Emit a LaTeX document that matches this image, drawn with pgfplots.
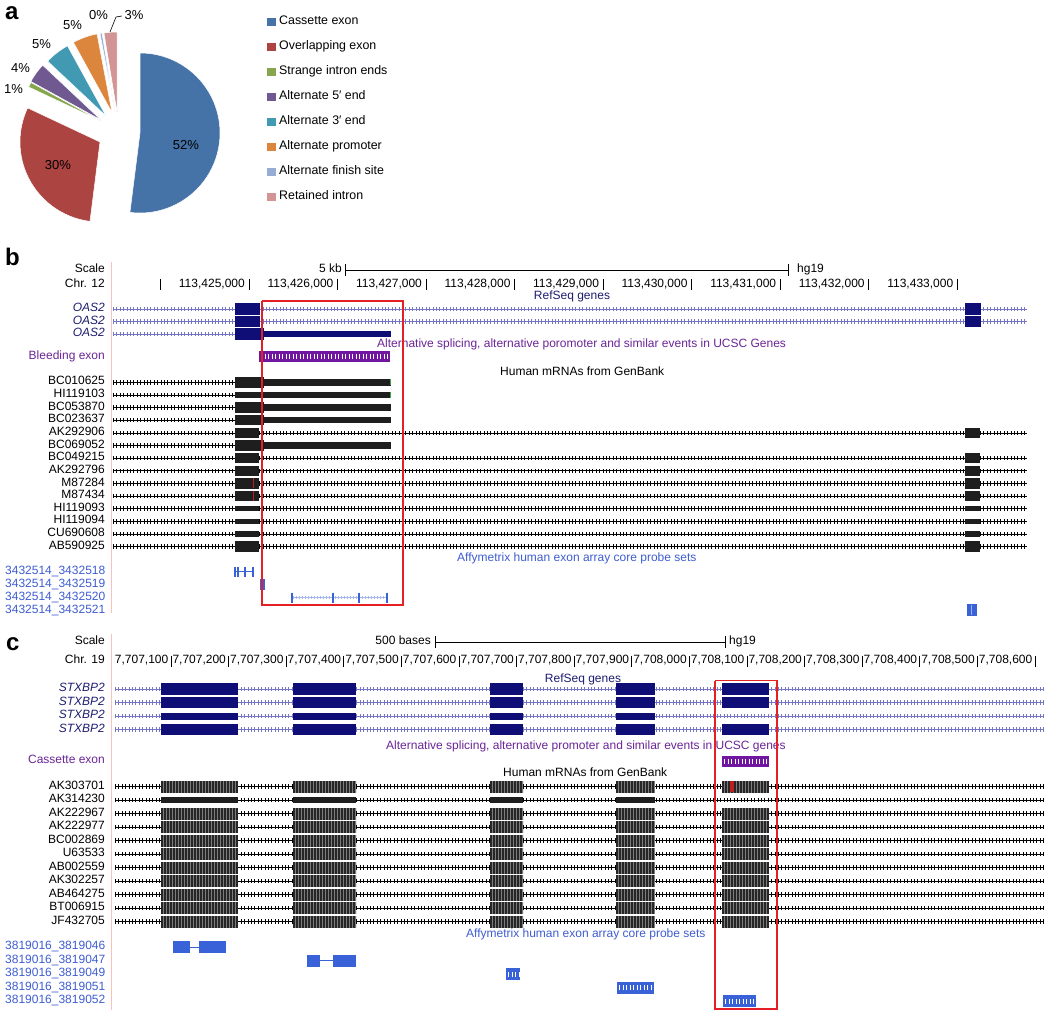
\documentclass[border=0pt]{standalone}
\usepackage{pgfplots}
\pgfplotsset{compat=1.18}
\usepackage{fontspec}
\setmainfont{Liberation Sans}
\definecolor{pieblue}{RGB}{69,114,167}
\definecolor{piered}{RGB}{172,68,66}
\definecolor{piegreen}{RGB}{134,165,76}
\definecolor{piepurple}{RGB}{112,88,145}
\definecolor{pieteal}{RGB}{66,153,178}
\definecolor{pieorange}{RGB}{220,133,60}
\definecolor{pielblue}{RGB}{150,172,210}
\definecolor{piepink}{RGB}{210,148,148}
\definecolor{navyexon}{RGB}{14,14,118}
\definecolor{refline}{RGB}{118,118,196}
\definecolor{navytext}{RGB}{28,28,112}
\definecolor{mexon}{RGB}{30,30,30}
\definecolor{stripebase}{RGB}{125,125,125}
\definecolor{stripedark}{RGB}{38,38,38}
\definecolor{probe}{RGB}{58,98,216}
\definecolor{probetext}{RGB}{62,92,208}
\definecolor{purpletext}{RGB}{106,36,150}
\definecolor{purplebar}{RGB}{112,22,160}
\definecolor{redbox}{RGB}{228,32,36}
\definecolor{pinkline}{RGB}{250,192,192}
\definecolor{mred}{RGB}{190,30,30}
\definecolor{mgreen}{RGB}{60,170,60}
\newcommand{\fs}{\fontsize{12}{14}\selectfont}
\tikzset{
  lbl/.style={inner sep=0pt, font=\fs},
  leg/.style={inner sep=0pt, font=\fontsize{12.4}{14}\selectfont},
  pct/.style={inner sep=0pt, font=\fontsize{13}{15}\selectfont},
  panel/.style={inner sep=0pt, font=\fontsize{24}{26}\selectfont\bfseries},
}
% intron line with chevron texture: colour, x1, x2, y
\newcommand{\intron}[4]{%
  \addplot[#1, line width=0.8pt] coordinates {(#2,#4) (#3,#4)};%
  \addplot[#1, line width=4.5pt, dash pattern=on 1pt off 2.4pt] coordinates {(#2,#4) (#3,#4)};}
% solid block: colour, height, y, x1, x2
\newcommand{\blk}[5]{\addplot[#1, line width=#2pt] coordinates {(#4,#3) (#5,#3)};}
% striped block: y, x1, x2, height
\newcommand{\sblk}[4]{%
  \addplot[stripebase, line width=#4pt] coordinates {(#2,#1) (#3,#1)};%
  \addplot[stripedark, line width=#4pt, dash pattern=on 2pt off 1pt] coordinates {(#2,#1) (#3,#1)};}
% white chevrons on a block: x1, x2, y
\newcommand{\wchev}[3]{\addplot[white, line width=5pt, dash pattern=on 0.7pt off 2.8pt] coordinates {(#1,#3) (#2,#3)};}
% pie slice: colour, tip x, tip y, start angle, end angle
\newcommand{\pieslice}[5]{\fill[#1, draw=white, line width=0.5pt] (axis cs:#2,#3) -- ++(#4:80pt) arc[start angle=#4, end angle=#5, radius=80pt] -- cycle;}
\begin{document}
\begin{tikzpicture}
\begin{axis}[name=main, x=1pt, y=1pt, y dir=reverse, xmin=0, xmax=1050, ymin=0, ymax=1016,
  hide axis, clip=false, unbounded coords=jump]
%% ---------------- panel a: pie ----------------
% shares (%): 52, 30, 1, 4, 5, 5, 0.4, 2.6 -> angles clockwise from 90
\pieslice{pieblue}{140}{133}{90}{-97.2}
\pieslice{piered}{100}{142}{-97.2}{-205.2}
\pieslice{piegreen}{101}{121}{-205.2}{-208.8}
\pieslice{piepurple}{101}{120}{-208.8}{-223.2}
\pieslice{pieteal}{106}{116}{-223.2}{-241.2}
\pieslice{pieorange}{112}{112.5}{-241.2}{-259.2}
\pieslice{pielblue}{115}{112}{-259.2}{-260.64}
\pieslice{piepink}{117}{112}{-260.64}{-270}
\node[pct] at (axis cs:186,145) {52\%};
\node[pct] at (axis cs:58,165) {30\%};
\node[pct] at (axis cs:13.5,89) {1\%};
\node[pct] at (axis cs:20.5,68) {4\%};
\node[pct] at (axis cs:41.5,44) {5\%};
\node[pct] at (axis cs:72.5,25) {5\%};
\node[pct] at (axis cs:98.5,15) {0\%};
\node[pct] at (axis cs:134,15) {3\%};
\addplot[black, line width=0.6pt] coordinates {(110,32) (116,17) (122,16)};
\node[panel, anchor=base west] at (axis cs:5,20) {a};
% legend
\addplot[only marks, mark=square*, mark size=3.7pt, pieblue] coordinates {(271,21.7)};
\addplot[only marks, mark=square*, mark size=3.7pt, piered] coordinates {(271,46.7)};
\addplot[only marks, mark=square*, mark size=3.7pt, piegreen] coordinates {(271,71.7)};
\addplot[only marks, mark=square*, mark size=3.7pt, piepurple] coordinates {(271,96.7)};
\addplot[only marks, mark=square*, mark size=3.7pt, pieteal] coordinates {(271,121.7)};
\addplot[only marks, mark=square*, mark size=3.7pt, pieorange] coordinates {(271,146.7)};
\addplot[only marks, mark=square*, mark size=3.7pt, pielblue] coordinates {(271,171.7)};
\addplot[only marks, mark=square*, mark size=3.7pt, piepink] coordinates {(271,196.7)};
\node[leg, anchor=mid west] at (axis cs:279,21.7) {Cassette exon};
\node[leg, anchor=mid west] at (axis cs:279,46.7) {Overlapping exon};
\node[leg, anchor=mid west] at (axis cs:279,71.7) {Strange intron ends};
\node[leg, anchor=mid west] at (axis cs:279,96.7) {Alternate 5′ end};
\node[leg, anchor=mid west] at (axis cs:279,121.7) {Alternate 3′ end};
\node[leg, anchor=mid west] at (axis cs:279,146.7) {Alternate promoter};
\node[leg, anchor=mid west] at (axis cs:279,171.7) {Alternate finish site};
\node[leg, anchor=mid west] at (axis cs:279,196.7) {Retained intron};
%% ---------------- panel b ----------------
\node[panel, anchor=base west] at (axis cs:5,266) {b};
\addplot[pinkline, line width=1pt] coordinates {(111,262) (111,613)};
\node[lbl, anchor=mid east] at (axis cs:105,270) {Scale};
\node[lbl, anchor=mid east] at (axis cs:105,284.5) {Chr. 12};
\node[lbl, anchor=mid east] at (axis cs:342,270) {5 kb};
\addplot[black, line width=0.8pt] coordinates {(345,270) (788,270) (nan,nan) (345,264) (345,276) (nan,nan) (788,264) (788,276)};
\node[lbl, anchor=mid west] at (axis cs:797,270) {hg19};
\addplot[black, line width=0.8pt] coordinates {(160.5,279) (160.5,290) (nan,nan) (249,279) (249,290) (nan,nan) (337.6,279) (337.6,290) (nan,nan) (426.1,279) (426.1,290) (nan,nan) (514.7,279) (514.7,290) (nan,nan) (603.2,279) (603.2,290) (nan,nan) (691.7,279) (691.7,290) (nan,nan) (780.3,279) (780.3,290) (nan,nan) (868.8,279) (868.8,290) (nan,nan) (957.4,279) (957.4,290)};
\node[lbl, anchor=mid east] at (axis cs:245,284.5) {113,425,000};
\node[lbl, anchor=mid east] at (axis cs:333.6,284.5) {113,426,000};
\node[lbl, anchor=mid east] at (axis cs:422.1,284.5) {113,427,000};
\node[lbl, anchor=mid east] at (axis cs:510.7,284.5) {113,428,000};
\node[lbl, anchor=mid east] at (axis cs:599.2,284.5) {113,429,000};
\node[lbl, anchor=mid east] at (axis cs:687.7,284.5) {113,430,000};
\node[lbl, anchor=mid east] at (axis cs:776.3,284.5) {113,431,000};
\node[lbl, anchor=mid east] at (axis cs:864.8,284.5) {113,432,000};
\node[lbl, anchor=mid east] at (axis cs:953.4,284.5) {113,433,000};
\node[lbl, anchor=mid, text=navytext] at (axis cs:572,297) {RefSeq genes};
% RefSeq OAS2
\intron{refline}{113}{1027}{309}
\intron{refline}{113}{1027}{321.5}
\intron{refline}{113}{235}{334}
\blk{navyexon}{11.5}{309}{234.8}{259.5}
\blk{navyexon}{11.5}{309}{965}{980.7}
\blk{navyexon}{11.5}{321.5}{234.8}{259.5}
\blk{navyexon}{11.5}{321.5}{965}{980.7}
\blk{navyexon}{11.5}{334}{234.8}{263.5}
\blk{navyexon}{6.5}{334}{263.5}{390.9}
\node[lbl, anchor=mid east, text=navytext, font=\fs\itshape] at (axis cs:105,309) {OAS2};
\node[lbl, anchor=mid east, text=navytext, font=\fs\itshape] at (axis cs:105,321.5) {OAS2};
\node[lbl, anchor=mid east, text=navytext, font=\fs\itshape] at (axis cs:105,334) {OAS2};
\node[lbl, anchor=mid west, text=purpletext] at (axis cs:377,344.5) {Alternative splicing, alternative poromoter and similar events in UCSC Genes};
\node[lbl, anchor=mid east, text=purpletext] at (axis cs:105,357) {Bleeding exon};
\blk{purplebar}{11}{357}{259}{390}
\wchev{261}{389}{357}
\node[lbl, anchor=mid west] at (axis cs:500,373) {Human mRNAs from GenBank};
% mRNA rows, type A
\pgfplotsinvokeforeach{382.3,407.6,420.2,445.5}{
  \intron{black}{113}{235}{#1}
  \blk{mexon}{10.5}{#1}{235}{264}
  \blk{mexon}{6.5}{#1}{264}{391}
}
% type B
\intron{black}{113}{235}{394.9}
\blk{mexon}{6}{394.9}{235}{391}
\addplot[mgreen, line width=1pt] coordinates {(390.5,379.3) (390.5,385.3) (nan,nan) (390.5,391.9) (390.5,397.9)};
% type C
\pgfplotsinvokeforeach{432.9,458.1,470.8,483.4,496.1,546.7}{
  \intron{black}{113}{1027}{#1}
  \blk{mexon}{10.5}{#1}{235}{259}
  \blk{mexon}{10.5}{#1}{965}{980}
}
% type D
\pgfplotsinvokeforeach{508.7,521.3,534.0}{
  \intron{black}{113}{1027}{#1}
  \blk{mexon}{5.5}{#1}{235}{259}
  \blk{mexon}{5.5}{#1}{965}{980}
}
\addplot[mred, line width=1pt] coordinates {(253.3,478.4) (253.3,488.4) (nan,nan) (253.3,491.1) (253.3,501.1)};
\node[lbl, anchor=mid east] at (axis cs:105,382.3) {BC010625};
\node[lbl, anchor=mid east] at (axis cs:105,394.9) {HI119103};
\node[lbl, anchor=mid east] at (axis cs:105,407.6) {BC053870};
\node[lbl, anchor=mid east] at (axis cs:105,420.2) {BC023637};
\node[lbl, anchor=mid east] at (axis cs:105,432.9) {AK292906};
\node[lbl, anchor=mid east] at (axis cs:105,445.5) {BC069052};
\node[lbl, anchor=mid east] at (axis cs:105,458.1) {BC049215};
\node[lbl, anchor=mid east] at (axis cs:105,470.8) {AK292796};
\node[lbl, anchor=mid east] at (axis cs:105,483.4) {M87284};
\node[lbl, anchor=mid east] at (axis cs:105,496.1) {M87434};
\node[lbl, anchor=mid east] at (axis cs:105,508.7) {HI119093};
\node[lbl, anchor=mid east] at (axis cs:105,521.3) {HI119094};
\node[lbl, anchor=mid east] at (axis cs:105,534.0) {CU690608};
\node[lbl, anchor=mid east] at (axis cs:105,546.7) {AB590925};
\node[lbl, anchor=mid west, text=probetext] at (axis cs:457,559) {Affymetrix human exon array core probe sets};
% probe sets b
\addplot[probe, line width=0.8pt] coordinates {(234,571.5) (253,571.5)};
\addplot[probe, line width=2pt] coordinates {(234.5,566.5) (234.5,576.5) (nan,nan) (237.5,566.5) (237.5,576.5) (nan,nan) (245,566.5) (245,576.5) (nan,nan) (252.5,566.5) (252.5,576.5)};
\blk{probe}{11}{584.5}{260}{265}
\addplot[probe!45, line width=0.8pt] coordinates {(292,597.5) (387,597.5)};
\addplot[probe!45, line width=3pt, dash pattern=on 0.7pt off 2.3pt] coordinates {(293,597.5) (386,597.5)};
\addplot[probe, line width=2pt] coordinates {(292,592.5) (292,602.5) (nan,nan) (333,592.5) (333,602.5) (nan,nan) (359,592.5) (359,602.5) (nan,nan) (387,592.5) (387,602.5)};
\blk{probe}{12}{610}{967}{977}
\addplot[probe!50, line width=1pt] coordinates {(971.5,605) (971.5,615)};
\node[lbl, anchor=mid west, text=probetext] at (axis cs:5,571.5) {3432514\_3432518};
\node[lbl, anchor=mid west, text=probetext] at (axis cs:5,584.5) {3432514\_3432519};
\node[lbl, anchor=mid west, text=probetext] at (axis cs:5,597.5) {3432514\_3432520};
\node[lbl, anchor=mid west, text=probetext] at (axis cs:5,610.5) {3432514\_3432521};
\addplot[redbox, line width=1.5pt] coordinates {(262,301) (403,301) (403,605) (262,605) (262,301)};
%% ---------------- panel c ----------------
\node[panel, anchor=base west] at (axis cs:6,650) {c};
\addplot[pinkline, line width=1pt] coordinates {(111,634) (111,1010)};
\node[lbl, anchor=mid east] at (axis cs:105,642) {Scale};
\node[lbl, anchor=mid east] at (axis cs:105,661) {Chr. 19};
\node[lbl, anchor=mid east] at (axis cs:431,642) {500 bases};
\addplot[black, line width=0.8pt] coordinates {(435,642) (725,642) (nan,nan) (435,636) (435,648) (nan,nan) (725,636) (725,648)};
\node[lbl, anchor=mid west] at (axis cs:729,642) {hg19};
\addplot[black, line width=0.8pt] coordinates {(171,655.5) (171,666.5) (nan,nan) (228.6,655.5) (228.6,666.5) (nan,nan) (286.2,655.5) (286.2,666.5) (nan,nan) (343.8,655.5) (343.8,666.5) (nan,nan) (401.4,655.5) (401.4,666.5) (nan,nan) (459,655.5) (459,666.5) (nan,nan) (516.6,655.5) (516.6,666.5) (nan,nan) (574.2,655.5) (574.2,666.5) (nan,nan) (631.8,655.5) (631.8,666.5) (nan,nan) (689.4,655.5) (689.4,666.5) (nan,nan) (747,655.5) (747,666.5) (nan,nan) (804.6,655.5) (804.6,666.5) (nan,nan) (862.2,655.5) (862.2,666.5) (nan,nan) (919.8,655.5) (919.8,666.5) (nan,nan) (977.4,655.5) (977.4,666.5) (nan,nan) (1035,655.5) (1035,666.5)};
\node[lbl, anchor=mid east] at (axis cs:168.5,661) {7,707,100};
\node[lbl, anchor=mid east] at (axis cs:226.1,661) {7,707,200};
\node[lbl, anchor=mid east] at (axis cs:283.7,661) {7,707,300};
\node[lbl, anchor=mid east] at (axis cs:341.3,661) {7,707,400};
\node[lbl, anchor=mid east] at (axis cs:398.9,661) {7,707,500};
\node[lbl, anchor=mid east] at (axis cs:456.5,661) {7,707,600};
\node[lbl, anchor=mid east] at (axis cs:514.1,661) {7,707,700};
\node[lbl, anchor=mid east] at (axis cs:571.7,661) {7,707,800};
\node[lbl, anchor=mid east] at (axis cs:629.3,661) {7,707,900};
\node[lbl, anchor=mid east] at (axis cs:686.9,661) {7,708,000};
\node[lbl, anchor=mid east] at (axis cs:744.5,661) {7,708,100};
\node[lbl, anchor=mid east] at (axis cs:802.1,661) {7,708,200};
\node[lbl, anchor=mid east] at (axis cs:859.7,661) {7,708,300};
\node[lbl, anchor=mid east] at (axis cs:917.3,661) {7,708,400};
\node[lbl, anchor=mid east] at (axis cs:974.9,661) {7,708,500};
\node[lbl, anchor=mid east] at (axis cs:1032.5,661) {7,708,600};
\node[lbl, anchor=mid, text=navytext] at (axis cs:583,679.5) {RefSeq genes};
% RefSeq STXBP2
\pgfplotsinvokeforeach{689,702.5,729.5}{
  \intron{refline}{115}{1044}{#1}
  \blk{navyexon}{11.5}{#1}{161}{237.5}
  \blk{navyexon}{11.5}{#1}{293}{356}
  \blk{navyexon}{11.5}{#1}{490}{523}
  \blk{navyexon}{11.5}{#1}{616}{654.5}
  \blk{navyexon}{11.5}{#1}{722}{769}
}
\intron{refline}{115}{1044}{716}
\blk{navyexon}{7}{716}{161}{237.5}
\blk{navyexon}{7}{716}{293}{356}
\blk{navyexon}{7}{716}{490}{523}
\blk{navyexon}{7}{716}{616}{654.5}
\node[lbl, anchor=mid east, text=navytext, font=\fs\itshape] at (axis cs:105,689) {STXBP2};
\node[lbl, anchor=mid east, text=navytext, font=\fs\itshape] at (axis cs:105,702.5) {STXBP2};
\node[lbl, anchor=mid east, text=navytext, font=\fs\itshape] at (axis cs:105,716) {STXBP2};
\node[lbl, anchor=mid east, text=navytext, font=\fs\itshape] at (axis cs:105,729.5) {STXBP2};
\node[lbl, anchor=mid west, text=purpletext] at (axis cs:386,747) {Alternative splicing, alternative promoter and similar events in UCSC genes};
\node[lbl, anchor=mid east, text=purpletext] at (axis cs:105,761) {Cassette exon};
\blk{purplebar}{11}{761}{722}{769}
\wchev{724}{768}{761}
\node[lbl, anchor=mid west] at (axis cs:503,773.5) {Human mRNAs from GenBank};
% mRNA rows c
\pgfplotsinvokeforeach{786.7,813.7,827.2,840.7,854.2,867.7,881.2,894.7,908.2,921.7}{
  \intron{black}{115}{1044}{#1}
  \sblk{#1}{161}{237.5}{12}
  \sblk{#1}{293}{356}{12}
  \sblk{#1}{490}{523}{12}
  \sblk{#1}{616}{654.5}{12}
  \sblk{#1}{722}{769}{12}
}
\intron{black}{115}{1044}{800.2}
\blk{mexon}{6}{800.2}{161}{237.5}
\blk{mexon}{6}{800.2}{293}{356}
\blk{mexon}{6}{800.2}{490}{523}
\blk{mexon}{6}{800.2}{616}{654.5}
\blk{mred}{11}{786.7}{730}{733.5}
\node[lbl, anchor=mid east] at (axis cs:105,786.7) {AK303701};
\node[lbl, anchor=mid east] at (axis cs:105,800.2) {AK314230};
\node[lbl, anchor=mid east] at (axis cs:105,813.7) {AK222967};
\node[lbl, anchor=mid east] at (axis cs:105,827.2) {AK222977};
\node[lbl, anchor=mid east] at (axis cs:105,840.7) {BC002869};
\node[lbl, anchor=mid east] at (axis cs:105,854.2) {U63533};
\node[lbl, anchor=mid east] at (axis cs:105,867.7) {AB002559};
\node[lbl, anchor=mid east] at (axis cs:105,881.2) {AK302257};
\node[lbl, anchor=mid east] at (axis cs:105,894.7) {AB464275};
\node[lbl, anchor=mid east] at (axis cs:105,908.2) {BT006915};
\node[lbl, anchor=mid east] at (axis cs:105,921.7) {JF432705};
\node[lbl, anchor=mid west, text=probetext] at (axis cs:466,935) {Affymetrix human exon array core probe sets};
% probe sets c
\blk{probe}{12}{947}{173}{190}
\addplot[probe, line width=0.8pt] coordinates {(190,947) (199,947)};
\blk{probe}{12}{947}{199}{226}
\blk{probe}{12}{960.5}{307}{320}
\addplot[probe, line width=0.8pt] coordinates {(320,960.5) (333,960.5)};
\blk{probe}{12}{960.5}{333}{356}
\blk{probe}{12}{974}{506}{520}
\wchev{508}{519}{974}
\blk{probe}{12}{987.5}{617}{654}
\wchev{619}{653}{987.5}
\blk{probe}{12}{1001}{723}{756}
\wchev{725}{755}{1001}
\node[lbl, anchor=mid west, text=probetext] at (axis cs:5,947) {3819016\_3819046};
\node[lbl, anchor=mid west, text=probetext] at (axis cs:5,960.5) {3819016\_3819047};
\node[lbl, anchor=mid west, text=probetext] at (axis cs:5,974) {3819016\_3819049};
\node[lbl, anchor=mid west, text=probetext] at (axis cs:5,987.5) {3819016\_3819051};
\node[lbl, anchor=mid west, text=probetext] at (axis cs:5,1001) {3819016\_3819052};
\addplot[redbox, line width=1.5pt] coordinates {(715,680.5) (777,680.5) (777,1009) (715,1009) (715,680.5)};
\end{axis}
\pgfresetboundingbox
\path[use as bounding box] (main.south west) rectangle (main.north east);
\end{tikzpicture}
\end{document}
